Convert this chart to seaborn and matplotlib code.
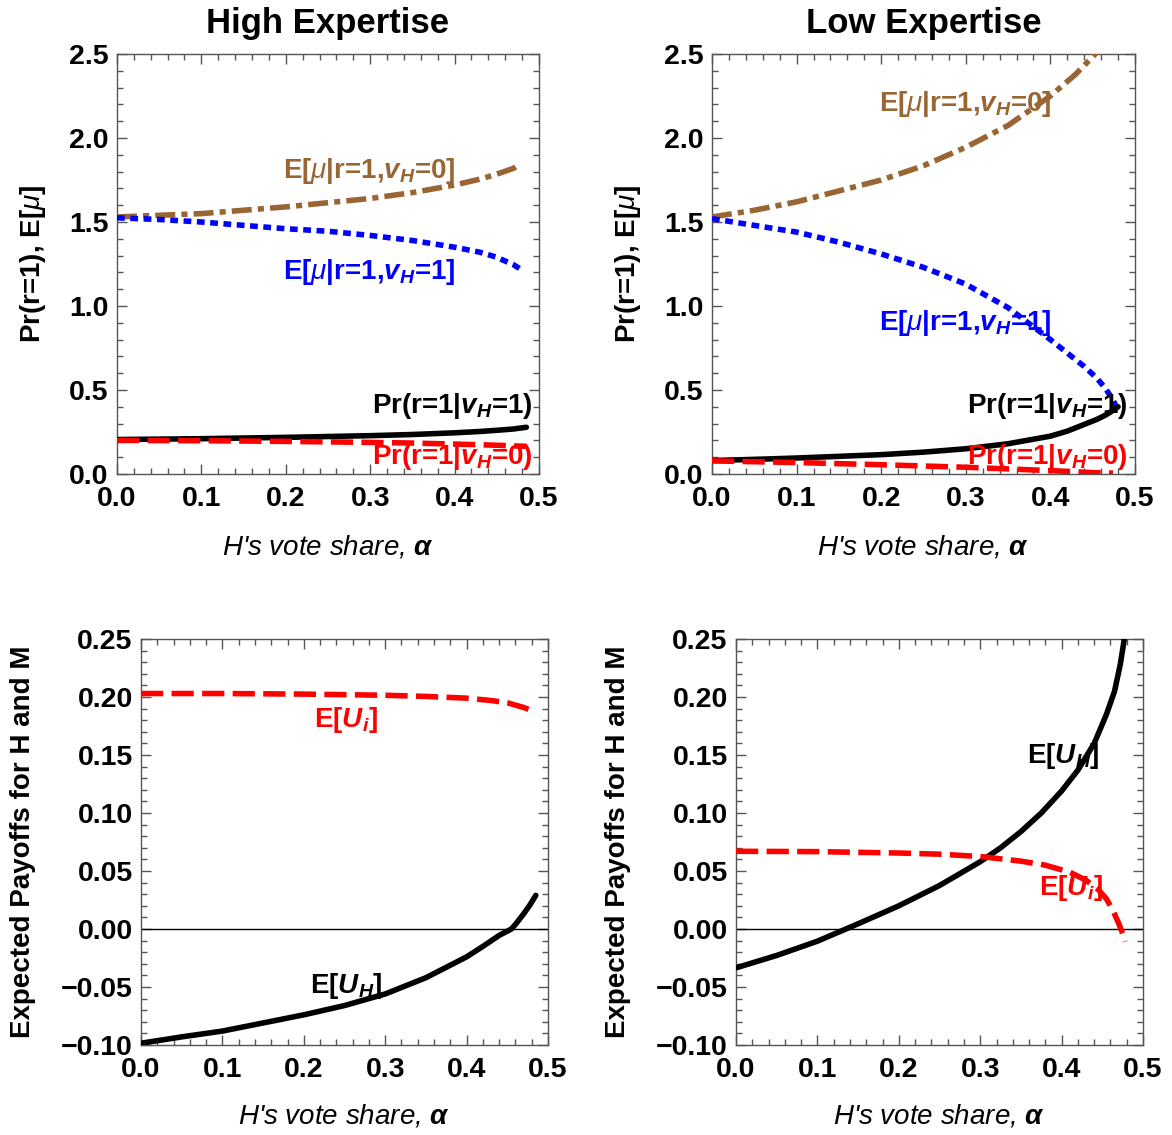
import matplotlib
matplotlib.use('Agg')
import matplotlib.pyplot as plt
import seaborn as sns
from matplotlib.ticker import MultipleLocator, FuncFormatter

# --- High expertise, top panel ---
hi_mu_x = [0.0, 0.05, 0.1, 0.15, 0.2, 0.25, 0.3, 0.35, 0.4, 0.43, 0.45, 0.47, 0.478]
hi_mu_v0 = [1.53, 1.54, 1.55, 1.57, 1.59, 1.615, 1.64, 1.675, 1.72, 1.755, 1.785, 1.82, 1.85]
hi_mu_v1 = [1.525, 1.515, 1.50, 1.48, 1.46, 1.445, 1.42, 1.39, 1.35, 1.32, 1.29, 1.245, 1.22]
hi_pr_x = [0.0, 0.1, 0.2, 0.3, 0.35, 0.4, 0.43, 0.45, 0.47, 0.485]
hi_pr_v1 = [0.205, 0.21, 0.218, 0.228, 0.235, 0.245, 0.253, 0.26, 0.268, 0.278]
hi_pr_v0 = [0.20, 0.198, 0.194, 0.188, 0.184, 0.178, 0.174, 0.171, 0.167, 0.165]

# --- Low expertise, top panel ---
lo_mu0_x = [0.0, 0.05, 0.1, 0.15, 0.2, 0.25, 0.3, 0.35, 0.4, 0.43, 0.455]
lo_mu_v0 = [1.53, 1.57, 1.62, 1.685, 1.75, 1.835, 1.945, 2.075, 2.25, 2.38, 2.51]
lo_x = [0.0, 0.05, 0.1, 0.15, 0.2, 0.25, 0.3, 0.35, 0.4, 0.42, 0.44, 0.455, 0.465, 0.473, 0.48]
lo_mu_v1 = [1.52, 1.48, 1.44, 1.38, 1.31, 1.23, 1.13, 0.99, 0.80, 0.72, 0.64, 0.57, 0.51, 0.45, 0.38]
lo_pr_v1 = [0.08, 0.087, 0.095, 0.105, 0.115, 0.13, 0.15, 0.18, 0.225, 0.255, 0.295, 0.325, 0.35, 0.375, 0.40]
lo_prv0_x = [0.0, 0.1, 0.2, 0.3, 0.35, 0.4, 0.43, 0.45, 0.474]
lo_pr_v0 = [0.078, 0.068, 0.055, 0.04, 0.03, 0.02, 0.013, 0.008, 0.005]

# --- High expertise, payoffs ---
hi_uh_x = [0.0, 0.05, 0.1, 0.15, 0.2, 0.25, 0.3, 0.35, 0.4, 0.42, 0.44, 0.455, 0.46, 0.47, 0.478, 0.485]
hi_u_h = [-0.0985, -0.093, -0.088, -0.081, -0.074, -0.066, -0.056, -0.042, -0.024, -0.015, -0.0055,
          0.0, 0.004, 0.013, 0.021, 0.029]
hi_ui_x = [0.0, 0.1, 0.2, 0.3, 0.35, 0.4, 0.43, 0.45, 0.47, 0.485]
hi_u_i = [0.203, 0.203, 0.2025, 0.2015, 0.2005, 0.199, 0.197, 0.195, 0.191, 0.187]

# --- Low expertise, payoffs ---
lo_uh_x = [0.0, 0.05, 0.1, 0.15, 0.2, 0.25, 0.3, 0.325, 0.35, 0.375, 0.4, 0.42, 0.44, 0.455,
           0.465, 0.472, 0.477]
lo_u_h = [-0.0335, -0.0228, -0.0105, 0.0045, 0.020, 0.0375, 0.058, 0.07, 0.084, 0.1, 0.119, 0.137,
          0.16, 0.185, 0.205, 0.228, 0.25]
lo_ui_x = [0.0, 0.1, 0.2, 0.25, 0.3, 0.35, 0.38, 0.41, 0.43, 0.445, 0.455, 0.463, 0.47, 0.475, 0.478]
lo_u_i = [0.067, 0.0667, 0.0655, 0.0645, 0.0625, 0.0585, 0.055, 0.049, 0.042, 0.034, 0.026, 0.016,
          0.005, -0.004, -0.011]

BROWN = '#996633'
BLUE = '#0000FF'
RED = '#FF0000'
FRAME = '#555555'

STYLE_DASHDOT = (0, (3.6, 1.1, 1.1, 1.1))
STYLE_DOT = (0, (1.4, 1.0))
STYLE_DASH = (0, (4.0, 1.5))
LW = 4

LBL_MU0 = r'E[$\mu$|r=1,$\mathbfit{v}_{\mathbfit{H}}$=0]'
LBL_MU1 = r'E[$\mu$|r=1,$\mathbfit{v}_{\mathbfit{H}}$=1]'
LBL_PR1 = r'Pr(r=1|$\mathbfit{v}_{\mathbfit{H}}$=1)'
LBL_PR0 = r'Pr(r=1|$\mathbfit{v}_{\mathbfit{H}}$=0)'
LBL_UI = r'E[$\mathbfit{U}_{\mathbfit{i}}$]'
LBL_UH = r'E[$\mathbfit{U}_{\mathbfit{H}}$]'

sns.set_style('ticks')
plt.rcParams['font.family'] = ['Liberation Sans', 'DejaVu Sans']
plt.rcParams['font.weight'] = 'bold'
plt.rcParams['text.color'] = 'black'
plt.rcParams['axes.labelcolor'] = 'black'
plt.rcParams['xtick.labelcolor'] = 'black'
plt.rcParams['ytick.labelcolor'] = 'black'
plt.rcParams['mathtext.fontset'] = 'custom'
plt.rcParams['mathtext.rm'] = 'Liberation Sans:weight=normal'
plt.rcParams['mathtext.it'] = 'Liberation Sans:style=italic:weight=normal'
plt.rcParams['mathtext.bf'] = 'Liberation Sans:weight=bold'
plt.rcParams['mathtext.bfit'] = 'Liberation Sans:style=italic:weight=bold'

ANN_SIZE = 20


def fmt(decimals):
    def f(v, pos):
        if abs(v) < 1e-9:
            v = 0.0
        return f'{v:.{decimals}f}'.replace('-', '\u2212')
    return FuncFormatter(f)


def line(ax, x, y, color, style='-'):
    sns.lineplot(x=x, y=y, color=color, lw=LW, linestyle=style, estimator=None,
                 sort=False, ax=ax, zorder=3)


def style_axes(ax, ylim, ymajor, yminor, ydec, ylabel, ylabel_x):
    ax.set_xlim(0, 0.5)
    ax.set_ylim(*ylim)
    ax.xaxis.set_major_locator(MultipleLocator(0.1))
    ax.xaxis.set_minor_locator(MultipleLocator(0.02))
    ax.yaxis.set_major_locator(MultipleLocator(ymajor))
    ax.yaxis.set_minor_locator(MultipleLocator(yminor))
    ax.xaxis.set_major_formatter(fmt(1))
    ax.yaxis.set_major_formatter(fmt(ydec))
    ax.tick_params(which='both', direction='in', top=True, right=True, color=FRAME, width=1,
                   labelcolor='black')
    ax.tick_params(which='major', length=7, labelsize=20.5)
    ax.tick_params(axis='x', which='major', pad=9)
    ax.tick_params(axis='y', which='major', pad=6)
    ax.tick_params(which='minor', length=4)
    for s in ax.spines.values():
        s.set_visible(True)
        s.set_color(FRAME)
        s.set_linewidth(1)
    ax.set_xlabel(r"H's vote share, $\mathbfit{\alpha}$", fontsize=20, fontstyle='italic',
                  fontweight='normal')
    ax.xaxis.label.set_va('center')
    ax.xaxis.set_label_coords(0.5, -0.175)
    ax.set_ylabel(ylabel, fontsize=20, fontweight='bold')
    ax.yaxis.label.set_va('center')
    ax.yaxis.set_label_coords(ylabel_x, 0.5)


def plot_top(ax, title, x0, mu0, x1, mu1, xp1, pr1, xp0, pr0, mu_pos):
    line(ax, x0, mu0, BROWN, STYLE_DASHDOT)
    line(ax, x1, mu1, BLUE, STYLE_DOT)
    line(ax, xp1, pr1, 'black')
    line(ax, xp0, pr0, RED, STYLE_DASH)
    style_axes(ax, (0, 2.5), 0.5, 0.1, 1, r'Pr(r=1), E[$\mu$]', -0.199)
    ax.set_title(title, fontsize=25, fontweight='bold', pad=15)
    kw = dict(fontsize=ANN_SIZE, ha='left', va='center', zorder=5)
    ax.text(0.197, mu_pos[0], LBL_MU0, color=BROWN, **kw)
    ax.text(0.197, mu_pos[1], LBL_MU1, color=BLUE, **kw)
    ax.text(0.302, 0.405, LBL_PR1, color='black', **kw)
    ax.text(0.302, 0.10, LBL_PR0, color=RED, **kw)


def plot_bottom(ax, xh, uh, xi, ui, uh_pos, ui_pos):
    ax.axhline(0, color='black', lw=1, zorder=2)
    line(ax, xh, uh, 'black')
    line(ax, xi, ui, RED, STYLE_DASH)
    style_axes(ax, (-0.1, 0.25), 0.05, 0.01, 2, 'Expected Payoffs for H and M', -0.29)
    kw = dict(fontsize=ANN_SIZE, ha='left', va='center', zorder=5)
    ax.text(uh_pos[0], uh_pos[1], LBL_UH, color='black', **kw)
    ax.text(ui_pos[0], ui_pos[1], LBL_UI, color=RED, **kw)


def main():
    fig = plt.figure(figsize=(11.72, 11.35), dpi=100)
    ax_tl = fig.add_axes([0.0998, 0.5824, 0.3601, 0.3700])
    ax_tr = fig.add_axes([0.6075, 0.5824, 0.3609, 0.3700])
    ax_bl = fig.add_axes([0.1203, 0.0793, 0.3473, 0.3577])
    ax_br = fig.add_axes([0.6280, 0.0793, 0.3473, 0.3577])

    plot_top(ax_tl, 'High Expertise', hi_mu_x, hi_mu_v0, hi_mu_x, hi_mu_v1,
             hi_pr_x, hi_pr_v1, hi_pr_x, hi_pr_v0, (1.806, 1.20))
    plot_top(ax_tr, 'Low Expertise', lo_mu0_x, lo_mu_v0, lo_x, lo_mu_v1,
             lo_x, lo_pr_v1, lo_prv0_x, lo_pr_v0, (2.205, 0.90))
    plot_bottom(ax_bl, hi_uh_x, hi_u_h, hi_ui_x, hi_u_i, (0.207, -0.049), (0.212, 0.180))
    plot_bottom(ax_br, lo_uh_x, lo_u_h, lo_ui_x, lo_u_i, (0.357, 0.149), (0.372, 0.035))

    fig.savefig('out.png', dpi=100)
    plt.close(fig)


if __name__ == '__main__':
    main()
